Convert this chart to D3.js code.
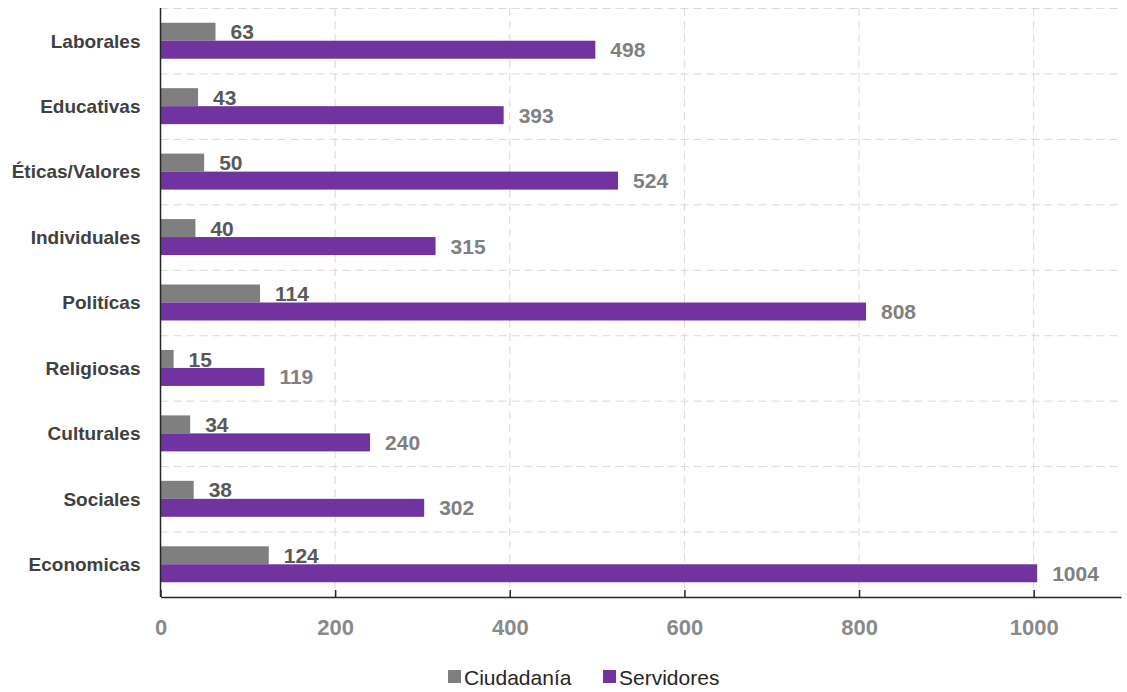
<!DOCTYPE html>
<html>
<head>
<meta charset="utf-8">
<script src="https://cdn.jsdelivr.net/npm/d3@7"></script>
<style>
  body { margin: 0; background: #fff; }
  text { font-family: "Liberation Sans", Arial, sans-serif; }
</style>
</head>
<body>
<script>
// data
var categories = ["Laborales", "Educativas", "Éticas/Valores", "Individuales", "Politícas",
                  "Religiosas", "Culturales", "Sociales", "Economicas"];
var ciudadania = [63, 43, 50, 40, 114, 15, 34, 38, 124];
var servidores = [498, 393, 524, 315, 808, 119, 240, 302, 1004];
var seriesNames = ["Ciudadanía", "Servidores"];
var xTicks = [0, 200, 400, 600, 800, 1000];

var colors = ["#7f7f7f", "#7033a0"];
var labelColors = ["#595959", "#808080"];

// margin
var margin = {top: 8, right: 6, bottom: 95, left: 160.5},
    width = 1127 - margin.left - margin.right,
    height = 692 - margin.top - margin.bottom;

var svg = d3.select("body").append("svg")
    .attr("width", 1127)
    .attr("height", 692)
  .append("g")
    .attr("transform", "translate(" + margin.left + "," + margin.top + ")");

var x = d3.scaleLinear().domain([0, 1100]).range([0, width]);

var y = d3.scaleBand()
    .domain(categories)
    .range([0, height])
    .paddingInner(0.45)
    .paddingOuter(0.225);

var y1 = d3.scaleBand()
    .domain(seriesNames)
    .range([0, y.bandwidth()]);

// horizontal dashed grid at band boundaries
var step = y.step();
var hLines = d3.range(categories.length).map(function(i) { return i * step; });
svg.selectAll(".hgrid")
    .data(hLines)
  .enter().append("line")
    .attr("class", "hgrid")
    .attr("x1", 0).attr("x2", width)
    .attr("y1", function(d) { return d + 0.5; })
    .attr("y2", function(d) { return d + 0.5; })
    .attr("stroke", "#d9d9d9")
    .attr("stroke-dasharray", "8,5");

// vertical dashed grid
svg.selectAll(".vgrid")
    .data(xTicks.slice(1))
  .enter().append("line")
    .attr("class", "vgrid")
    .attr("x1", function(d) { return x(d); })
    .attr("x2", function(d) { return x(d); })
    .attr("y1", 0).attr("y2", height)
    .attr("stroke", "#d9d9d9")
    .attr("stroke-dasharray", "8,5");

// bars
var rows = categories.map(function(c, i) {
  return {cat: c, vals: [ciudadania[i], servidores[i]]};
});

var g = svg.selectAll(".row")
    .data(rows)
  .enter().append("g")
    .attr("class", "row")
    .attr("transform", function(d) { return "translate(0," + y(d.cat) + ")"; });

g.selectAll("rect")
    .data(function(d) { return d.vals.map(function(v, j) { return {v: v, s: seriesNames[j], j: j}; }); })
  .enter().append("rect")
    .attr("x", x(0))
    .attr("y", function(d) { return y1(d.s); })
    .attr("width", function(d) { return x(d.v) - x(0); })
    .attr("height", y1.bandwidth())
    .attr("fill", function(d) { return colors[d.j]; });

g.selectAll(".val")
    .data(function(d) { return d.vals.map(function(v, j) { return {v: v, s: seriesNames[j], j: j}; }); })
  .enter().append("text")
    .attr("class", "val")
    .attr("x", function(d) { return x(d.v) + 15; })
    .attr("y", function(d) { return y1(d.s) + y1.bandwidth() / 2; })
    .attr("dy", "0.36em")
    .attr("fill", function(d) { return labelColors[d.j]; })
    .style("font-size", "21px")
    .style("font-weight", "bold")
    .text(function(d) { return d.v; });

// category labels
svg.selectAll(".cat")
    .data(categories)
  .enter().append("text")
    .attr("class", "cat")
    .attr("x", -20)
    .attr("y", function(d) { return y(d) + y.bandwidth() / 2; })
    .attr("dy", "0.36em")
    .attr("text-anchor", "end")
    .attr("fill", "#404040")
    .style("font-size", "19px")
    .style("font-weight", "bold")
    .text(function(d) { return d; });

// x axis
var xAxis = svg.append("g")
    .attr("transform", "translate(0," + height + ")")
    .call(d3.axisBottom(x).tickValues(xTicks).tickFormat(d3.format("d"))
      .tickSizeInner(-7).tickSizeOuter(0).tickPadding(22));

xAxis.select(".domain").attr("stroke", "#262626").attr("stroke-width", 1.5);
xAxis.selectAll(".tick line").attr("stroke", "#262626").attr("stroke-width", 1.5);
xAxis.selectAll(".tick text")
    .attr("fill", "#8a8a8a")
    .style("font-size", "22px")
    .style("font-weight", "bold")
    .style("font-family", "'Liberation Sans', Arial, sans-serif");

// y axis line
svg.append("line")
    .attr("x1", 0).attr("x2", 0)
    .attr("y1", 0).attr("y2", height)
    .attr("stroke", "#262626")
    .attr("stroke-width", 1.5);

// legend
var legendX = [448 - margin.left, 603 - margin.left];
var legend = svg.selectAll(".legend")
    .data(seriesNames)
  .enter().append("g")
    .attr("class", "legend")
    .attr("transform", function(d, i) { return "translate(" + legendX[i] + "," + (677 - margin.top) + ")"; });

legend.append("rect")
    .attr("x", 0).attr("y", -7)
    .attr("width", 13).attr("height", 13)
    .attr("fill", function(d, i) { return colors[i]; });

legend.append("text")
    .attr("x", 16)
    .attr("y", 0)
    .attr("dy", "0.36em")
    .attr("fill", "#262626")
    .style("font-size", "21px")
    .text(function(d) { return d; });
</script>
</body>
</html>
